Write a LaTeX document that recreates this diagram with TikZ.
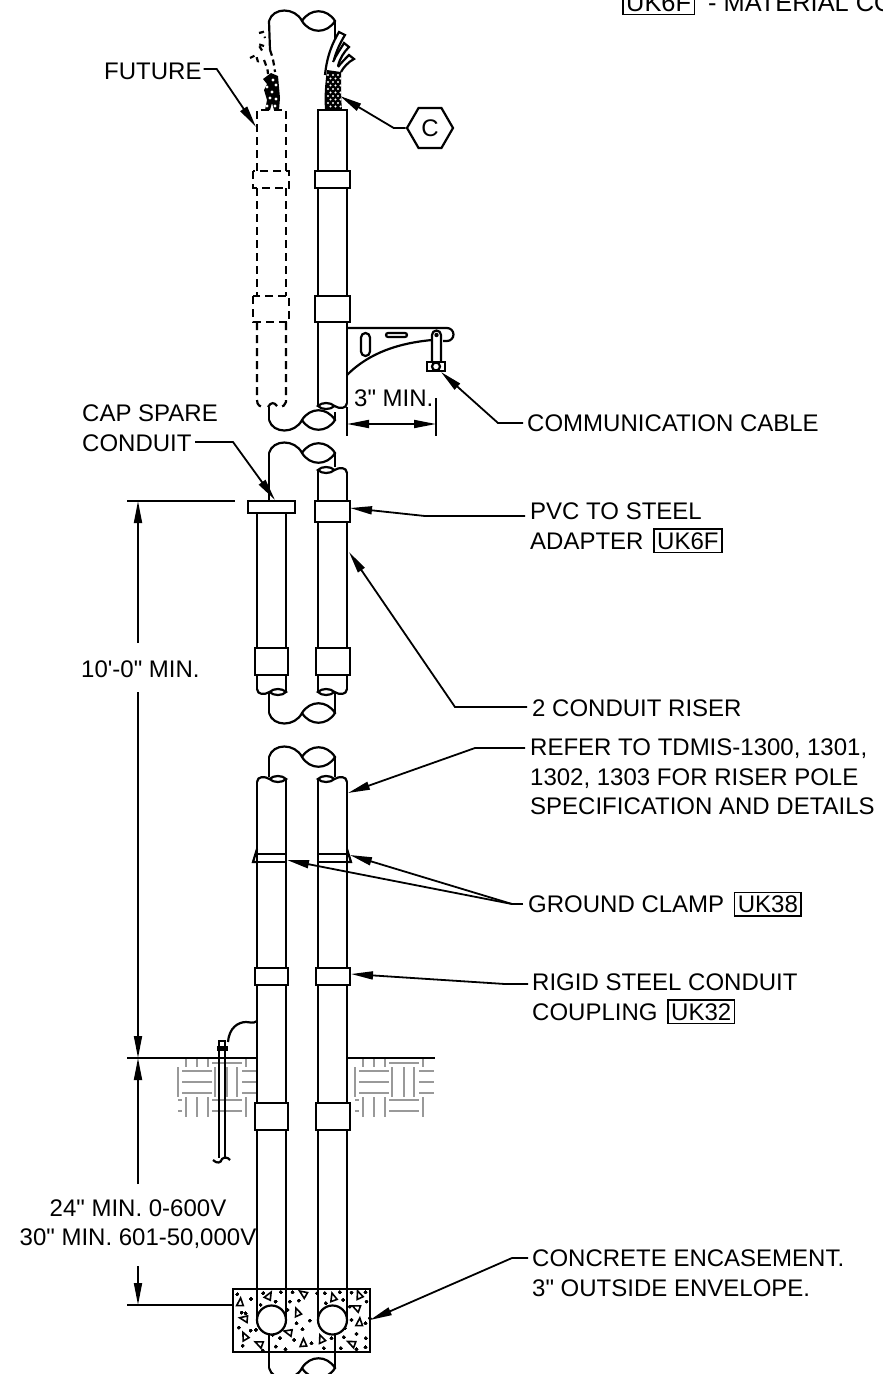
\documentclass[tikz,border=0pt]{standalone}
\usepackage{fontspec}
\setmainfont{Liberation Sans}[Ligatures=TeXOff]
\usetikzlibrary{arrows.meta,shapes.geometric}

\setlength{\fboxsep}{2.5pt}
\setlength{\fboxrule}{1.5pt}
\newcommand{\matcode}[1]{\hspace{3pt}\fbox{#1}}

\tikzset{
    thk/.style={line width=2.2pt},
    dim/.style={line width=1.8pt},
    lbl/.style={anchor=west,inner sep=0pt,align=left,font=\fontsize{24}{29.5}\selectfont},
    fut/.style={thk,dash pattern=on 8pt off 5pt},
    soil/.style={line width=1.3pt,draw=black!40},
}

% pole cut, #1 y, #2 = 1 bump up, -1 bump down
\newcommand{\polebreak}[2]{
    \draw[thk,shift={(0,#1)},yscale=#2] (269,0) .. controls (273,-14) and (295,-14) .. (302,0)
    .. controls (310,13) and (327,13) .. (335,0) .. controls (327,-13) and (310,-13) .. (302,0);
}
% conduit cut, #1 x of the middle, #2 y, #3 flip, #4 mirror
\newcommand{\conduitbreak}[5][thk]{
    \draw[#1,shift={(#2,#3)},yscale=#4,xscale=#5] (-14.5,-4) .. controls (-14,2) and (-7,2) .. (-2,-1)
    .. controls (2,3) and (11,3) .. (14.5,-1) .. controls (11,-5) and (2,-5) .. (-2,-1);
}
\newcommand{\soilpatch}[1]{
    \begin{scope}[xshift=#1]
    \foreach \x in {186,197,208,246} \draw[soil] (\x,1059) -- (\x,1067) (\x,1097) -- (\x,1117);
    \foreach \x in {178,215,227,237} \draw[soil] (\x,1067) -- (\x,1097);
    \foreach \y in {1071,1082,1093} \draw[soil] (182,\y) -- (212,\y) (242,\y) -- (257,\y);
    \foreach \y in {1063,1100,1111} \draw[soil] (212,\y) -- (242,\y);
    \foreach \y in {1100,1111} \draw[soil] (178,\y) -- (182,\y);
    \end{scope}
}
\newcommand{\aggr}[3]{
    \draw[line width=1.6pt,shift={(#1,#2)},rotate=#3] (-10,7) -- (10,7) -- (2,-16) -- cycle;
}

\begin{document}
\begin{tikzpicture}[x=1pt,y=-1pt,>={Triangle[length=22pt,width=8pt]}]
    \useasboundingbox (0,0) rectangle (883,1374);

    % soil
    \soilpatch{0}
    \soilpatch{177}

    % top section, pole and cables
    \polebreak{21}{1}
    \draw[thk] (269,21) -- (270,50);
    \draw[thk] (335,21) -- (335,42);

    \draw[thk,fill=white] (325,75) .. controls (327,55) and (333,42) .. (339,32) -- (345,35)
    .. controls (340,43) and (336,52) .. (334,60);
    \draw[thk] (333,62) .. controls (336,55) and (340,50) .. (344,43) -- (349,47)
    .. controls (344,52) and (340,58) .. (338,66);
    \draw[thk] (338,67) .. controls (341,63) and (345,59) .. (349,55) -- (354,59)
    .. controls (348,62) and (343,68) .. (341,72);

    \fill (325,110) .. controls (324,95) and (325,85) .. (327,70) -- (341,72)
    .. controls (341,88) and (341,100) .. (342,110) -- cycle;
    \foreach \x in {328,333,338}
        \foreach \y in {75,82,89,96,103}
            \fill[white] (\x,\y) circle (1.2pt) (\x+2.5,\y+3.5) circle (1.1pt);

    \draw[fut,dash pattern=on 5pt off 4pt] (259,33) -- (263,32) -- (265,38) (264,46) -- (258,44) -- (263,52)
    (250,58) -- (256,55) -- (258,62) -- (256,65);
    \draw[fut,dash pattern=on 6pt off 4pt] (270,50) .. controls (273,58) and (274,64) .. (275,72);
    \draw[fut,dash pattern=on 6pt off 4pt] (264,60) .. controls (266,65) and (268,70) .. (268,74);
    \fill (263,79) -- (271,73) -- (278,76) -- (279,87) -- (280,98) -- (279,110) -- (274,110)
    -- (272,103) -- (270,110) -- (265,110) -- (267,100) -- (264,90) -- (267,84) -- cycle;
    \foreach \x/\y in {267/87,272/92,276/85,270/98,276/99,273/80,275/106,267/106}
        \fill[white] (\x,\y) circle (1.6pt);

    % future conduit, dashed
    \draw[fut] (257,171) -- (257,110) -- (286,110) -- (286,171);
    \draw[fut] (253,171) rectangle (289,188);
    \draw[fut] (257,188) -- (257,296) (286,188) -- (286,296);
    \draw[fut] (253,296) rectangle (289,322);
    \draw[fut] (257,322) -- (257,400) .. controls (257,405) and (260,407) .. (264,407);
    \draw[fut] (286,322) -- (286,402) .. controls (285,405) and (283,407) .. (280,407);
    \draw[thk] (268,407) .. controls (271,402) and (274,402) .. (277,406);

    % top section, conduit and bracket
    \draw[thk] (318,110) rectangle (347,171);
    \draw[thk] (315,171) rectangle (350,188);
    \draw[thk] (318,188) -- (318,296) (347,188) -- (347,296);
    \draw[thk] (315,296) rectangle (350,322);
    \draw[thk] (318,322) -- (318,405) (347,322) -- (347,403);
    \conduitbreak{332.5}{407}{1}{-1}

    \draw[thk] (347,328) -- (447,328) arc (90:-90:6.5pt) -- (443,341);
    \draw[thk] (347,375) .. controls (370,352) and (400,343) .. (432,340);
    \draw[thk,rounded corners=4.5pt] (361,333) rectangle (370,356);
    \draw[thk,rounded corners=2pt] (386,333) rectangle (407,337);
    \draw[thk] (432,362) -- (432,335) arc (180:0:4.5pt) -- (441,362);
    \fill (436.5,335) circle (2.2pt);
    \draw[thk,fill=white] (427,362) rectangle (445,371);
    \draw[thk] (436,366.5) circle (4pt);

    \polebreak{420}{-1}
    \draw[thk] (269,407) -- (269,420) (335,412) -- (335,420);

    % middle section
    \polebreak{453}{1}
    \draw[thk] (269,453) -- (269,501) (335,453) -- (335,467);
    \conduitbreak{332.5}{469}{-1}{-1}
    \draw[thk] (318,470) -- (318,501) (347,472) -- (347,501);
    \draw[thk] (248,501) rectangle (295,513);
    \draw[thk] (257,513) -- (257,648) (286,513) -- (286,648);
    \draw[thk] (315,501) rectangle (350,522);
    \draw[thk] (318,522) -- (318,648) (347,522) -- (347,648);
    \draw[thk] (255,648) rectangle (288,675);
    \draw[thk] (316,648) rectangle (350,675);
    \draw[thk] (257,675) -- (257,690) (286,675) -- (286,692);
    \draw[thk] (318,675) -- (318,692) (347,675) -- (347,690);
    \conduitbreak{271.5}{693}{1}{1}
    \conduitbreak{332.5}{693}{1}{-1}
    \draw[thk] (269,693) -- (269,713) (335,693) -- (335,713);
    \polebreak{713}{-1}

    % lower section
    \polebreak{757}{1}
    \draw[thk] (269,757) -- (269,777) (335,757) -- (335,777);
    \conduitbreak{271.5}{778}{-1}{1}
    \conduitbreak{332.5}{778}{-1}{-1}
    \draw[thk] (257,782) -- (257,968) (286,780) -- (286,968);
    \draw[thk] (318,780) -- (318,968) (347,782) -- (347,968);
    \draw[thk] (257,854) -- (286,854) (257,862) -- (286,862);
    \draw[thk] (318,854) -- (347,854) (318,862) -- (347,862);
    \draw[thk] (257,849) -- (253,862) -- (257,862);
    \draw[thk] (347,849) -- (351,862) -- (347,862);
    \draw[thk] (255,968) rectangle (288,985);
    \draw[thk] (316,968) rectangle (350,985);
    \draw[thk] (257,985) -- (257,1103) (286,985) -- (286,1103);
    \draw[thk] (318,985) -- (318,1103) (347,985) -- (347,1103);
    \draw[thk] (255,1103) rectangle (288,1130);
    \draw[thk] (316,1103) rectangle (350,1130);
    \draw[thk] (257,1130) -- (257,1320) (286,1130) -- (286,1320);
    \draw[thk] (318,1130) -- (318,1320) (347,1130) -- (347,1320);

    % ground line and rod
    \draw[thk] (127,1058) -- (257,1058) (347,1058) -- (435,1058);
    \draw[thk] (219,1048) -- (219,1158) (225,1048) -- (225,1158);
    \draw[thk] (213,1160) .. controls (217,1164) and (221,1163) .. (222,1159) .. controls (224,1157) and (228,1157) .. (230,1160);
    \draw[thk] (219,1041) rectangle (225,1048);
    \draw[thk,fill=black] (218,1047) rectangle (227,1050);
    \draw[thk] (228,1042) .. controls (229,1028) and (238,1022) .. (246,1022) .. controls (250,1022) and (253,1024) .. (257,1021);

    % encasement
    \draw[thk] (233,1289) rectangle (370,1352);
    \begin{scope}[shift={(200,1260)},x=0.333pt,y=-0.333pt]
    \foreach \x/\y/\r in {120/130/0,205/110/-25,312/103/60,400/115/20,478/108/25,472/145/70,478/190/0,
        135/177/85,293/160/25,135/232/30,180/253/70,268/218/80,310/252/5,365/240/25,458/252/70}
        \aggr{\x}{\y}{\r}
    \foreach \x/\y in {112/103,153/117,137/160,125/158,117/203,168/210,128/258,190/100,182/135,227/125,243/97,
        278/97,270/125,297/122,263/150,290/190,330/182,308/208,240/235,228/260,257/268,283/240,335/250,
        352/100,375/100,420/97,430/120,378/130,455/98,497/97,450/140,500/125,455/180,510/175,497/190,
        435/205,470/222,498/235,432/232,423/265,497/262,470/268,395/235,372/265,218/225,188/272,152/212}
        \fill (\x,\y) circle (1.6pt);
    \end{scope}
    \draw[thk,fill=white] (271.5,1320) circle (14.5pt);
    \draw[thk,fill=white] (332.5,1320) circle (14.5pt);
    \draw[thk] (269,1334) -- (269,1368) (335,1334) -- (335,1368);
    \polebreak{1368}{-1}

    % labels
    \node[lbl,anchor=base west,font=\fontsize{25.4}{30}\selectfont] (note) at (619,11) {\matcode{UK6F}\hspace{6pt} - MATERIAL CO};
    \node[lbl] (future) at (104,71) {FUTURE};
    \node[regular polygon,regular polygon sides=6,draw,thk,minimum size=46pt,inner sep=0pt,font=\fontsize{24}{24}\selectfont] (hexc) at (430,128) {C};
    \node[lbl] (capspare) at (82,428) {CAP SPARE\\CONDUIT};
    \node[lbl] (commcable) at (527,423) {COMMUNICATION CABLE};
    \node[lbl] (threemin) at (354,398) {3" MIN.};
    \node[lbl] (pvc) at (530,528) {PVC TO STEEL\\ADAPTER \matcode{UK6F}};
    \node[lbl] (riser) at (532,708) {2 CONDUIT RISER};
    \node[lbl] (refer) at (530,777) {REFER TO TDMIS-1300, 1301,\\1302, 1303 FOR RISER POLE\\SPECIFICATION AND DETAILS};
    \node[lbl] (clamp) at (528,904) {GROUND CLAMP \matcode{UK38}};
    \node[lbl] (rigid) at (532,999) {RIGID STEEL CONDUIT\\COUPLING \matcode{UK32}};
    \node[lbl] (concrete) at (532,1273) {CONCRETE ENCASEMENT.\\3" OUTSIDE ENVELOPE.};
    \node[lbl] (tenmin) at (81,669) {10'-0" MIN.};
    \node[lbl,align=center,anchor=center] (bury) at (138,1224) {24" MIN. 0-600V\\30" MIN. 601-50,000V};

    % leaders
    \coordinate (futureend) at (256,127);
    \coordinate (cableend) at (340,96);
    \coordinate (capstart) at (195,442);
    \coordinate (capend) at (275,500);
    \coordinate (bracketend) at (441,372);
    \coordinate (pvcend) at (350,508);
    \coordinate (riserend) at (349,552);
    \coordinate (referend) at (348,793);
    \coordinate (clampr) at (350,855);
    \coordinate (clampl) at (287,860);
    \coordinate (rigidend) at (351,974);
    \coordinate (concreteend) at (370,1320);

    \draw[dim,->] (future.east) ++(2,-2) -- ++(13,0) -- (futureend);
    \draw[dim,->] (hexc.west) -- ++(-12,0) -- (cableend);
    \draw[dim,->] (capstart) -- (233,442) -- (capend);
    \draw[dim,->] (commcable.west) ++(-4,0) -- (498,423) -- (bracketend);
    \draw[dim,->] (pvc.west) ++(-5,-12) -- (425,516) -- (pvcend);
    \draw[dim,->] (riser.west) ++(-5,-1) -- (455,707) -- (riserend);
    \draw[dim,->] (refer.west) ++(-5,-29) -- (475,748) -- (referend);
    \draw[dim] (clamp.west) ++(-5,0) -- (512,904) coordinate (clampj);
    \draw[dim,->] (clampj) -- (clampr);
    \draw[dim,->] (clampj) -- (clampl);
    \draw[dim,->] (rigid.west) ++(-4,-15) -- (505,984) -- (rigidend);
    \draw[dim,->] (concrete.west) ++(-4,-15) -- (512,1258) -- (concreteend);

    % dimensions
    \coordinate (tentop) at (138,643);
    \coordinate (tenbot) at (138,692);
    \coordinate (burytop) at (138,1184);
    \coordinate (burybot) at (138,1266);
    \draw[dim] (347,407) -- (347,436) (436,398) -- (436,436);
    \draw[dim,<->] (347,424) -- (436,424);
    \draw[dim] (127,501) -- (235,501);
    \draw[dim,->] (tentop) -- (138,501);
    \draw[dim,->] (tenbot) -- (138,1058);
    \draw[dim,->] (burytop) -- (138,1058);
    \draw[dim,->] (burybot) -- (138,1305);
    \draw[dim] (127,1305) -- (233,1305);
\end{tikzpicture}
\end{document}
